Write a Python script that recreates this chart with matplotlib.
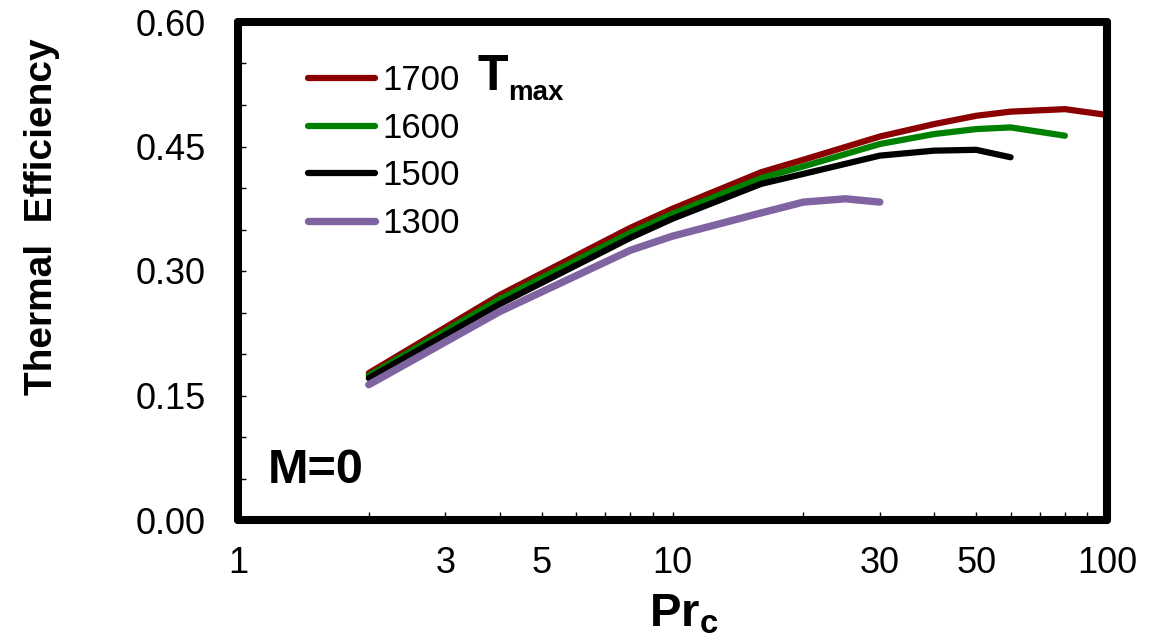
import matplotlib
matplotlib.use("Agg")
import matplotlib.pyplot as plt
from matplotlib.ticker import FixedLocator, FixedFormatter, NullFormatter

plt.rcParams['font.family'] = ['Liberation Sans', 'DejaVu Sans']
plt.rcParams['mathtext.fontset'] = 'custom'
plt.rcParams['mathtext.rm'] = 'Liberation Sans'
plt.rcParams['mathtext.bf'] = 'Liberation Sans:bold'

# ---- data ----
pr_1700 = [2, 4, 8, 10, 16, 20, 30, 40, 50, 60, 80, 100]
eff_1700 = [0.177, 0.271, 0.352, 0.375, 0.419, 0.434, 0.462, 0.477, 0.487, 0.492, 0.495, 0.488]

pr_1600 = [2, 4, 8, 10, 16, 20, 30, 40, 50, 60, 80]
eff_1600 = [0.174, 0.266, 0.346, 0.369, 0.412, 0.426, 0.453, 0.465, 0.471, 0.473, 0.463]

pr_1500 = [2, 4, 8, 10, 16, 20, 30, 40, 50, 60]
eff_1500 = [0.171, 0.260, 0.340, 0.363, 0.405, 0.417, 0.439, 0.445, 0.446, 0.437]

pr_1300 = [2, 4, 8, 10, 16, 20, 25, 30]
eff_1300 = [0.163, 0.251, 0.325, 0.342, 0.370, 0.383, 0.387, 0.383]

series_labels = ['1700', '1600', '1500', '1300']
series_colors = ['#8B0000', '#008000', '#000000', '#8064A2']

x_major = [1, 3, 5, 10, 30, 50, 100]
x_major_labels = ['1', '3', '5', '10', '30', '50', '100']
x_minor = [2, 4, 6, 7, 8, 9, 20, 40, 60, 70, 80, 90]
y_major = [0.00, 0.15, 0.30, 0.45, 0.60]
y_minor = [0.05, 0.10, 0.20, 0.25, 0.35, 0.40, 0.50, 0.55]

fig = plt.figure(figsize=(11.52, 6.42), dpi=100)
ax = fig.add_axes([238/1152, 1 - 520/642, (1107-238)/1152, (520-22)/642])

xs = [pr_1700, pr_1600, pr_1500, pr_1300]
ys = [eff_1700, eff_1600, eff_1500, eff_1300]
widths = [4.5, 4.5, 4.5, 5.3]
for x, y, lab, c, w in zip(xs, ys, series_labels, series_colors, widths):
    ax.plot(x, y, color=c, lw=w, label=lab, solid_capstyle='round',
            solid_joinstyle='round')

ax.set_xscale('log')
ax.set_xlim(1, 100)
ax.set_ylim(0, 0.60)

ax.xaxis.set_major_locator(FixedLocator(x_major))
ax.xaxis.set_major_formatter(FixedFormatter(x_major_labels))
ax.xaxis.set_minor_locator(FixedLocator(x_minor))
ax.xaxis.set_minor_formatter(NullFormatter())
ax.yaxis.set_major_locator(FixedLocator(y_major))
ax.yaxis.set_major_formatter(FixedFormatter([f'{v:.2f}' for v in y_major]))
ax.yaxis.set_minor_locator(FixedLocator(y_minor))

ax.tick_params(axis='x', which='both', direction='in', length=6, width=1,
               labelsize=26, pad=19, top=False)
ax.tick_params(axis='y', which='both', direction='in', length=6, width=1,
               labelsize=26, pad=23, right=False)

for sp in ax.spines.values():
    sp.set_linewidth(5.8)
    sp.set_capstyle('round')
    sp.set_joinstyle('round')

ax.set_ylabel('Thermal  Efficiency', fontsize=28, fontweight='bold', va='center')
ax.yaxis.set_label_coords(-0.2255, 0.61)
ax.set_xlabel(r'$\mathbf{Pr}_{\mathbf{c}}$', fontsize=34)
ax.xaxis.set_label_coords(0.513, -0.145)

ax.text(0.0345, 0.0743, 'M=0', transform=ax.transAxes, fontsize=35,
        fontweight='bold', ha='left', va='baseline')
ax.text(0.276, 0.8635, 'T', transform=ax.transAxes, fontsize=36,
        fontweight='bold', ha='left', va='baseline')
ax.text(0.3107, 0.8434, 'max', transform=ax.transAxes, fontsize=20,
        fontweight='bold', ha='left', va='baseline')

leg = ax.legend(loc='upper left', bbox_to_anchor=(0.0806, 0.915), frameon=False,
                fontsize=25, handlelength=1.93, handletextpad=0.22,
                labelspacing=0.42, borderpad=0, borderaxespad=0)

fig.savefig('out.png', dpi=100)
